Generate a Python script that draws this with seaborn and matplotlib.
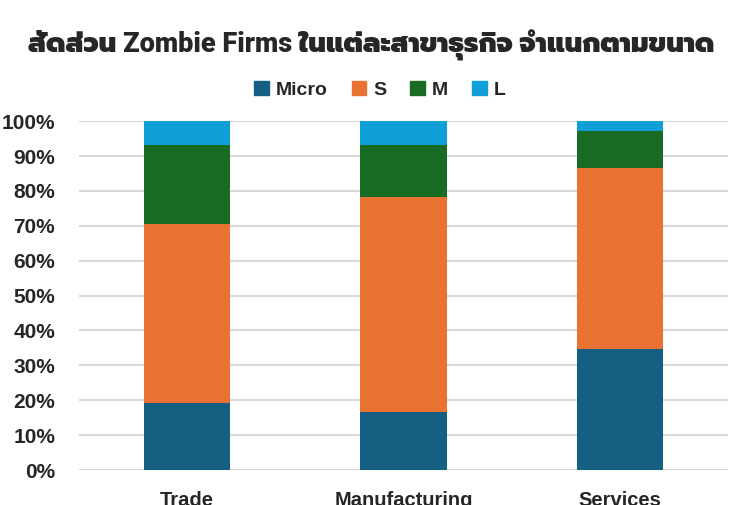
import numpy as np
import pandas as pd
import matplotlib
matplotlib.use("Agg")
import matplotlib.pyplot as plt
import matplotlib.patches as mpatches
import seaborn as sns
from matplotlib.ticker import PercentFormatter

# Share of zombie firms by size, per sector (percent)
SECTORS = ["Trade", "Manufacturing", "Services"]
MICRO = [19.3, 16.7, 34.7]
SMALL = [51.2, 61.5, 51.8]
MEDIUM = [22.6, 14.9, 10.6]
LARGE = [6.9, 6.9, 2.9]

SIZE_NAMES = ["Micro", "S", "M", "L"]
SIZE_COLORS = ["#156082", "#E97132", "#196B24", "#0F9ED5"]

TITLE = "สัดส่วน Zombie Firms ในแต่ละสาขาธุรกิจ จำแนกตามขนาด"

sns.set_theme(style="white")
plt.rcParams["font.family"] = ["Liberation Sans", "Prompt", "DejaVu Sans"]

df = pd.DataFrame({"sector": SECTORS, "Micro": MICRO, "S": SMALL, "M": MEDIUM, "L": LARGE})
cum = df[SIZE_NAMES].cumsum(axis=1)

fig = plt.figure(figsize=(7.43, 5.05), dpi=100)
ax = fig.add_axes([0.106, 0.0693, 0.874, 0.6907])

# draw tallest cumulative first so the lower segments sit on top
for name, color in zip(SIZE_NAMES[::-1], SIZE_COLORS[::-1]):
    sns.barplot(x=df["sector"], y=cum[name], color=color, width=0.4,
                linewidth=0, saturation=1, ax=ax, zorder=3)

ax.set_ylim(0, 100)
ax.set_xlim(-0.5, 2.5)
ax.set_yticks(np.arange(0, 101, 10))
ax.yaxis.set_major_formatter(PercentFormatter(decimals=0))
ax.grid(axis="y", color="#d9d9d9", linewidth=1.5, zorder=0)
ax.set_axisbelow(True)
for s in ax.spines.values():
    s.set_visible(False)
ax.set_xlabel("")
ax.set_ylabel("")
ax.tick_params(axis="y", length=0, pad=17, labelsize=15)
ax.tick_params(axis="x", length=0, pad=15, labelsize=14.5)
for lab in ax.get_yticklabels() + ax.get_xticklabels():
    lab.set_fontweight("bold")

handles = [mpatches.Patch(color=c, label=n) for n, c in zip(SIZE_NAMES, SIZE_COLORS)]
fig.legend(handles=handles, loc="center", bbox_to_anchor=(0.511, 0.822), ncol=4,
           frameon=False, prop={"weight": "bold", "size": 14},
           handlelength=0.75, handleheight=0.75, handletextpad=0.35, columnspacing=1.25)

fig.text(0.5, 0.911, TITLE, ha="center", va="center", fontsize=19.5, fontweight=900,
         family=["Roboto", "Prompt", "DejaVu Sans"])

fig.savefig("out.png", dpi=100)
